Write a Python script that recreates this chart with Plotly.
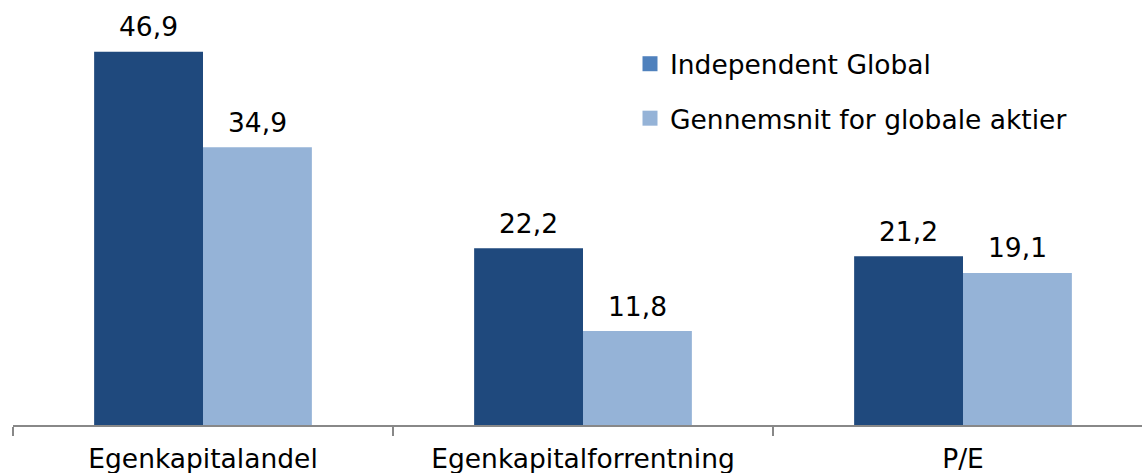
import plotly.graph_objects as go

categories = ["Egenkapitalandel", "Egenkapitalforrentning", "P/E"]
series_names = ["Independent Global", "Gennemsnit for globale aktier"]
independent_global = [46.9, 22.2, 21.2]
global_average = [34.9, 11.8, 19.1]

bar_colors = ["#1F497D", "#95B3D7"]
legend_colors = ["#4F81BD", "#95B3D7"]
FONT = "DejaVu Sans"
FS = 26.5

W, H = 1142, 473
left, bottom = 13, 48
plot_w = W - left
cat_w = 380
bargap = 0.427
half_bar_px = cat_w * (1 - bargap) / 4

fig = go.Figure()
for name, vals, col in zip(series_names, [independent_global, global_average], bar_colors):
    fig.add_trace(go.Bar(
        x=categories, y=vals, name=name, marker_color=col, marker_line_width=0,
        showlegend=False, hoverinfo="skip",
    ))
for i, (name, col) in enumerate(zip(series_names, legend_colors)):
    fig.add_trace(go.Scatter(
        x=[None], y=[None], mode="markers", name=name, legendgroup=f"g{i}",
        marker=dict(symbol="square", size=15, color=col),
    ))

# data labels
for sign, vals in zip([-1, 1], [independent_global, global_average]):
    for c, v in zip(categories, vals):
        fig.add_annotation(
            x=c, y=v, xref="x", yref="y", text=f"{v:.1f}".replace(".", ","),
            showarrow=False, xshift=sign * half_bar_px, yshift=25,
            yanchor="middle", xanchor="center",
            font=dict(family=FONT, size=FS, color="#000000"),
        )

fig.update_layout(
    width=W, height=H,
    margin=dict(l=left, r=0, t=0, b=bottom, pad=0),
    paper_bgcolor="white", plot_bgcolor="white",
    barmode="group", bargap=bargap, bargroupgap=0,
    separators=",.",
    font=dict(family=FONT, size=FS, color="#000000"),
    xaxis=dict(
        type="category", range=[-0.5, -0.5 + plot_w / cat_w],
        tickson="boundaries", ticks="outside", ticklen=9, tickwidth=2,
        tickcolor="#888888", showline=True, linecolor="#888888", linewidth=2,
        showgrid=False, ticklabelstandoff=9, automargin=False,
        tickfont=dict(family=FONT, size=FS, color="#000000"),
    ),
    yaxis=dict(range=[0, 425 / 7.96], visible=False, showgrid=False, zeroline=False),
    legend=dict(
        x=(630 - left) / plot_w, y=1 - 40 / (H - bottom), xanchor="left", yanchor="top",
        font=dict(family=FONT, size=FS, color="#000000"),
        tracegroupgap=17, bgcolor="rgba(0,0,0,0)",
    ),
    showlegend=True,
)
fig.write_html(
    "out.html",
    config={"displayModeBar": False},
    post_script="document.body.style.margin='0px';document.body.style.overflow='hidden';",
)
